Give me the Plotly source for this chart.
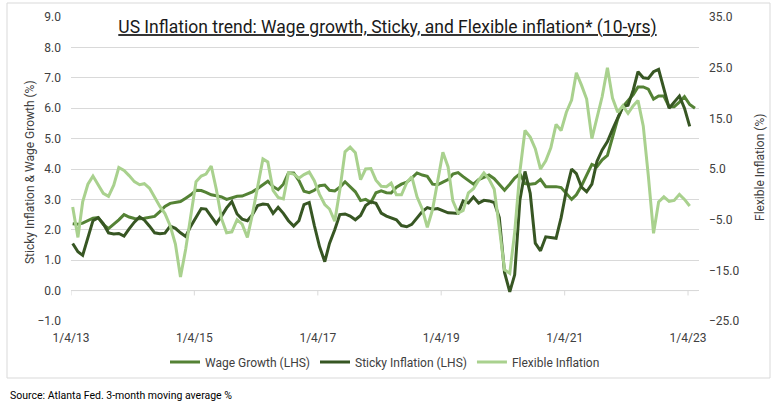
import plotly.graph_objects as go
import pandas as pd

# ---------------- data (monthly) ----------------
wage_growth = [2.20, 2.18, 2.22, 2.30, 2.38, 2.40, 2.18, 2.04, 2.18, 2.33,
               2.50, 2.42, 2.37, 2.36, 2.38, 2.41, 2.44, 2.60, 2.77, 2.87,
               2.90, 2.93, 3.04, 3.15, 3.30, 3.29, 3.23, 3.15, 3.12, 3.08,
               3.00, 3.05, 3.10, 3.11, 3.19, 3.25, 3.36, 3.50, 3.60, 3.42,
               3.32, 3.50, 3.87, 3.87, 3.62, 3.27, 3.22, 3.30, 3.45, 3.47,
               3.30, 3.28, 3.40, 3.58, 3.43, 3.25, 2.96, 3.00, 2.90, 3.22,
               3.28, 3.22, 3.21, 3.40, 3.50, 3.57, 3.70, 3.87, 3.80, 3.76,
               3.50, 3.48, 3.57, 3.65, 3.83, 3.88, 3.75, 3.62, 3.50, 3.65,
               3.73, 3.80, 3.68, 3.50, 3.30, 3.50, 3.70, 3.84, 3.52, 3.50,
               3.52, 3.66, 3.42, 3.42, 3.42, 3.39, 3.20, 3.00, 3.15, 3.45,
               3.80, 4.15, 4.08, 4.30, 4.45, 5.00, 5.65, 6.05, 6.25, 6.45,
               6.70, 6.70, 6.63, 6.30, 6.40, 6.40, 6.05, 6.05, 6.20, 6.38,
               6.12, 6.00]

sticky_inflation = [1.55, 1.28, 1.16, 1.70, 2.30, 2.40, 2.20, 1.90, 1.86, 1.88,
                    1.79, 2.03, 2.25, 2.42, 2.32, 2.12, 1.90, 1.87, 1.89, 2.12,
                    2.05, 1.90, 1.78, 2.12, 2.43, 2.70, 2.68, 2.45, 2.20, 2.45,
                    2.72, 2.93, 2.52, 2.35, 2.30, 2.50, 2.80, 2.85, 2.83, 2.54,
                    2.74, 2.54, 2.30, 2.12, 2.30, 2.83, 2.90, 2.15, 1.45, 0.95,
                    1.55, 2.00, 2.50, 2.52, 2.45, 2.33, 2.47, 2.80, 2.92, 2.87,
                    2.55, 2.45, 2.40, 2.33, 2.14, 2.10, 2.18, 2.40, 2.60, 2.73,
                    2.68, 2.70, 2.62, 2.56, 2.55, 2.54, 2.95, 2.88, 3.08, 2.88,
                    2.97, 2.95, 2.90, 2.40, 0.60, -0.04, 0.52, 2.98, 3.92, 3.20,
                    1.56, 1.31, 1.77, 1.74, 1.72, 2.40, 3.30, 4.00, 3.85, 3.40,
                    3.25, 3.50, 4.25, 4.63, 4.90, 5.30, 5.70, 6.05, 6.10, 6.60,
                    7.20, 7.00, 6.98, 7.20, 7.28, 6.60, 6.00, 6.20, 6.40, 6.00,
                    5.40]

flexible_inflation = [-2.5, -8.5, -1.5, 2.0, 3.6, 2.0, 0.2, -0.4, 1.8, 5.3,
                      4.7, 3.7, 2.5, 1.9, 2.1, 1.2, -0.7, -2.4, -3.8, -6.2,
                      -9.8, -16.3, -10.8, -4.0, 2.5, 3.6, 4.0, 5.6, 1.0, -4.8,
                      -7.6, -7.4, -5.0, -5.9, -8.5, -3.9, 1.9, 7.0, 6.4, 0.8,
                      -0.6, -0.9, 4.2, 4.0, 3.2, 3.9, 4.4, 2.7, 0.0, -2.0,
                      -2.9, -5.3, 0.8, 8.4, 9.3, 8.2, 2.9, 5.0, 5.1, 2.8,
                      1.6, 1.5, 2.2, -0.1, -0.1, 2.3, 3.5, -0.5, -2.9, -6.5,
                      -3.0, 2.8, 8.3, 5.4, -1.3, -3.7, -3.2, 0.3, 1.1, 2.8,
                      4.2, 3.0, 1.0, -6.5, -14.9, -15.6, -7.5, 4.5, 12.6, 11.3,
                      9.0, 5.0, 6.6, 9.2, 13.8, 12.6, 16.2, 18.6, 24.0, 21.5,
                      18.8, 11.0, 15.3, 19.3, 25.0, 19.0, 16.2, 17.5, 16.0, 17.5,
                      18.5, 13.5, 3.7, -7.7, -1.5, -0.5, -1.4, -1.2, 0.0, -1.0,
                      -2.3]

x_tick_dates = ["2013-01-04", "2015-01-04", "2017-01-04", "2019-01-04", "2021-01-04", "2023-01-04"]
x_tick_labels = ["1/4/13", "1/4/15", "1/4/17", "1/4/19", "1/4/21", "1/4/23"]

series_names = ["Wage Growth (LHS)", "Sticky Inflation (LHS)", "Flexible Inflation"]

dates = [d.strftime("%Y-%m-%d") for d in
         pd.date_range("2013-01-14", periods=len(wage_growth), freq=pd.DateOffset(months=1))]

# ---------------- styling ----------------
FONT = "Roboto, Lato, sans-serif"
W, H = 777, 409
L, R, T, B = 71, 78, 17, 88
PW, PH = W - L - R, H - T - B

def px_x(px):
    return (px - L) / PW

def px_y(py):
    return (H - B - py) / PH

fig = go.Figure()
fig.add_trace(go.Scatter(x=dates[:len(wage_growth)], y=wage_growth, name=series_names[0],
                         mode="lines", line=dict(color="#548235", width=3)))
fig.add_trace(go.Scatter(x=dates[:len(sticky_inflation)], y=sticky_inflation, name=series_names[1],
                         mode="lines", line=dict(color="#375623", width=3)))
fig.add_trace(go.Scatter(x=dates[:len(flexible_inflation)], y=flexible_inflation, name=series_names[2],
                         mode="lines", line=dict(color="#A9D18E", width=3), yaxis="y2"))

shapes = [
    # chart border
    dict(type="rect", xref="paper", yref="paper", x0=px_x(7), x1=px_x(770), y0=px_y(378), y1=px_y(3),
         line=dict(color="#d9d9d9", width=1), fillcolor="rgba(0,0,0,0)", layer="below"),
    # category axis line at 0
    dict(type="line", xref="x", yref="y", x0=x_tick_dates[0], x1="2023-02-28", y0=0, y1=0,
         line=dict(color="#d9d9d9", width=1), layer="below"),
]
for d in x_tick_dates:
    shapes.append(dict(type="line", xref="x", yref="y", x0=d, x1=d, y0=0, y1=-0.16,
                       line=dict(color="#d9d9d9", width=1), layer="below"))

fig.update_layout(
    width=W, height=H,
    margin=dict(l=L, r=R, t=T, b=B),
    paper_bgcolor="white", plot_bgcolor="white",
    font=dict(family=FONT, size=12, color="#404040"),
    title=dict(text="<u>US Inflation trend: Wage growth, Sticky, and Flexible inflation* (10-yrs)</u>",
               x=0.4987, xanchor="center", y=1 - 27 / H, yanchor="middle", yref="container",
               font=dict(family=FONT, size=17.5, color="#1a1a1a")),
    xaxis=dict(type="date", range=["2013-01-04", "2023-03-10"], tickvals=x_tick_dates,
               ticktext=x_tick_labels, showgrid=False, showline=False, zeroline=False,
               ticks="", ticklabelstandoff=8, tickfont=dict(size=12, color="#404040")),
    yaxis=dict(range=[-1, 9], dtick=1, tickformat=".1f", showgrid=True, gridcolor="#d9d9d9",
               gridwidth=1, zeroline=False, showline=False, ticks="", ticklabelstandoff=9,
               automargin=False),
    yaxis2=dict(range=[-25, 35], tick0=-25, dtick=10, tickformat=".1f", overlaying="y", side="right",
                showgrid=False, zeroline=False, showline=False, ticks="", ticklabelstandoff=9,
                automargin=False),
    legend=dict(orientation="h", x=0.5, xanchor="center", y=px_y(362), yanchor="middle",
                font=dict(size=12, color="#404040"), itemwidth=30, bgcolor="rgba(0,0,0,0)"),
    shapes=shapes,
    annotations=[
        dict(text="Source: Atlanta Fed. 3-month moving average %", xref="paper", yref="paper",
             x=px_x(8), y=px_y(395), xanchor="left", yanchor="middle", showarrow=False,
             font=dict(size=10.5, color="#000000")),
        dict(text="Sticky Inflation & Wage Growth (%)", xref="paper", yref="paper",
             x=px_x(30), y=px_y(172), xanchor="center", yanchor="middle", textangle=-90,
             showarrow=False, font=dict(size=12, color="#404040")),
        dict(text="Flexible Inflation (%)", xref="paper", yref="paper",
             x=px_x(760), y=px_y(168), xanchor="center", yanchor="middle", textangle=-90,
             showarrow=False, font=dict(size=12, color="#404040")),
    ],
    showlegend=True,
)

fig.write_html("out.html", config={"displayModeBar": False},
               post_script="document.body.style.margin='0';document.body.style.padding='0';")
